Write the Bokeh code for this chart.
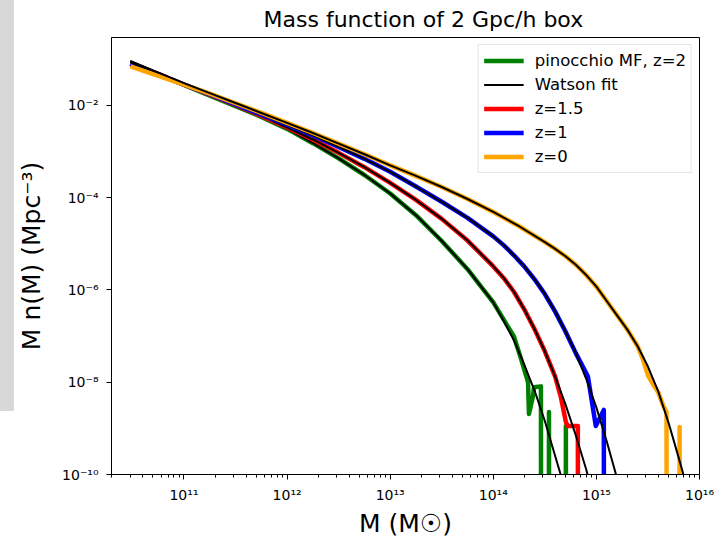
import numpy as np
from bokeh.plotting import figure
from bokeh.layouts import row
from bokeh.models import (Range1d, FixedTicker, CustomJSTickFormatter, Legend,
                          LegendItem, Div)
from bokeh.embed import file_html
from bokeh.resources import INLINE

FONT = "DejaVu Sans"

# ---------------------------------------------------------------------------
# Halo mass function of the 2 Gpc/h box.
# Masses are log10(M / Msun); values are log10(M n(M) / Mpc^-3).
# None marks an empty mass bin (no halos).
# ---------------------------------------------------------------------------

# Watson fit
watson_z2_logm = [10.48, 10.75, 11.0, 11.25, 11.5, 11.75, 12.0, 12.25, 12.5, 12.75,
                  13.0, 13.25, 13.5, 13.75, 14.0, 14.1, 14.2, 14.3, 14.4, 14.5,
                  14.6, 14.66, 14.72]
watson_z2_logv = [-1.04, -1.29, -1.54, -1.78, -2.02, -2.25, -2.51, -2.82, -3.15,
                  -3.51, -3.91, -4.38, -4.94, -5.55, -6.27, -6.67, -7.09, -7.62,
                  -8.18, -8.84, -9.60, -10.05, -10.5]

watson_z15_logm = [10.48, 10.75, 11.0, 11.25, 11.5, 11.75, 12.0, 12.25, 12.5, 12.75,
                   13.0, 13.25, 13.5, 13.75, 14.0, 14.1, 14.2, 14.3, 14.4, 14.5,
                   14.6, 14.7, 14.8, 14.9, 14.95]
watson_z15_logv = [-1.05, -1.30, -1.54, -1.77, -1.99, -2.23, -2.48, -2.74, -3.03,
                   -3.34, -3.68, -4.05, -4.46, -4.93, -5.49, -5.74, -6.04, -6.42,
                   -6.85, -7.33, -7.88, -8.48, -9.15, -9.88, -10.3]

watson_z1_logm = [10.48, 10.75, 11.0, 11.25, 11.5, 11.75, 12.0, 12.25, 12.5, 12.75,
                  13.0, 13.25, 13.5, 13.75, 14.0, 14.1, 14.2, 14.3, 14.4, 14.5,
                  14.6, 14.7, 14.8, 14.9, 15.0, 15.1, 15.19, 15.25]
watson_z1_logv = [-1.06, -1.31, -1.54, -1.76, -1.98, -2.20, -2.42, -2.65, -2.90,
                  -3.16, -3.44, -3.76, -4.09, -4.44, -4.84, -5.03, -5.25, -5.49,
                  -5.77, -6.09, -6.47, -6.90, -7.37, -7.92, -8.55, -9.28, -10.0,
                  -10.5]

watson_z0_logm = [10.48, 10.75, 11.0, 11.25, 11.5, 11.75, 12.0, 12.25, 12.5, 12.75,
                  13.0, 13.25, 13.5, 13.75, 14.0, 14.25, 14.5, 14.6, 14.7, 14.8,
                  14.9, 15.0, 15.1, 15.2, 15.3, 15.4, 15.5, 15.6, 15.7, 15.8,
                  15.85, 15.9]
watson_z0_logv = [-1.05, -1.29, -1.52, -1.735, -1.95, -2.165, -2.38, -2.60, -2.83,
                  -3.06, -3.30, -3.53, -3.77, -4.03, -4.31, -4.62, -4.965, -5.11,
                  -5.27, -5.455, -5.675, -5.93, -6.24, -6.55, -6.86, -7.22, -7.66,
                  -8.20, -8.88, -9.65, -10.05, -10.45]

# pinocchio mass function
pin_z2_logm = [10.48, 10.75, 11.0, 11.25, 11.5, 11.75, 12.0, 12.25, 12.5, 12.75,
               13.0, 13.25, 13.5, 13.75, 14.0, 14.1, 14.2, 14.27, 14.337, 14.346,
               14.385, 14.395, 14.462, 14.47, 14.53, 14.54, 14.55, 14.695,
               14.704, 14.714]
pin_z2_logv = [-1.10, -1.33, -1.56, -1.79, -2.02, -2.25, -2.51, -2.82, -3.15,
               -3.51, -3.91, -4.38, -4.94, -5.55, -6.27, -6.64, -7.01, -7.50,
               -8.0, -8.69, -8.30, -8.11, -8.09, None, None, -8.646, None, None,
               -8.947, None]

pin_z15_logm = [10.48, 10.75, 11.0, 11.25, 11.5, 11.75, 12.0, 12.25, 12.5, 12.75,
                13.0, 13.25, 13.5, 13.75, 14.0, 14.1, 14.2, 14.3, 14.4, 14.5,
                14.6, 14.656, 14.704, 14.72, 14.82, 14.83]
pin_z15_logv = [-1.10, -1.32, -1.55, -1.77, -1.99, -2.23, -2.48, -2.74, -3.03,
                -3.34, -3.68, -4.05, -4.46, -4.93, -5.49, -5.74, -6.04, -6.42,
                -6.85, -7.33, -7.88, -8.33, -8.86, -8.947, -8.947, None]

pin_z1_logm = [10.48, 10.75, 11.0, 11.25, 11.5, 11.75, 12.0, 12.25, 12.5, 12.75,
               13.0, 13.25, 13.5, 13.75, 14.0, 14.1, 14.2, 14.3, 14.4, 14.5,
               14.6, 14.7, 14.8, 14.917, 14.994, 15.043, 15.072, 15.08]
pin_z1_logv = [-1.10, -1.33, -1.55, -1.76, -1.98, -2.20, -2.42, -2.65, -2.90,
               -3.16, -3.44, -3.76, -4.09, -4.44, -4.84, -5.03, -5.25, -5.49,
               -5.77, -6.09, -6.47, -6.90, -7.37, -7.87, -8.947, -8.73, -8.60,
               None]

pin_z0_logm = [10.48, 10.75, 11.0, 11.25, 11.5, 11.75, 12.0, 12.25, 12.5, 12.75,
               13.0, 13.25, 13.5, 13.75, 14.0, 14.25, 14.5, 14.6, 14.7, 14.8,
               14.9, 15.0, 15.1, 15.2, 15.3, 15.4, 15.45, 15.5, 15.55, 15.6,
               15.65, 15.68, 15.69, 15.80, 15.807, 15.815]
pin_z0_logv = [-1.154, -1.36, -1.55, -1.745, -1.955, -2.165, -2.38, -2.60, -2.83,
               -3.06, -3.30, -3.53, -3.77, -4.03, -4.31, -4.62, -4.965, -5.11,
               -5.27, -5.455, -5.675, -5.93, -6.24, -6.55, -6.86, -7.22, -7.50,
               -7.85, -8.05, -8.22, -8.52, -8.64, None, None, -8.97, None]

# empty bins sit far below the plotted range
EMPTY_BIN = 1e-30


def linear(logs):
    return [10.0 ** v if v is not None else EMPTY_BIN for v in logs]


p = figure(
    width=703, height=540,
    x_axis_type="log", y_axis_type="log",
    x_range=Range1d(10 ** 10.297, 1e16),
    y_range=Range1d(1e-10, 10 ** -0.53),
    output_backend="svg", toolbar_location=None,
    min_border_left=96, min_border_right=18,
    min_border_top=36, min_border_bottom=64,
    title="Mass function of 2 Gpc/h box",
)

p.background_fill_color = "white"
p.border_fill_color = "white"
p.outline_line_color = "black"
p.outline_line_width = 1
p.xgrid.visible = False
p.ygrid.visible = False

p.title.align = "left"
p.title.offset = 152
p.title.text_font = FONT
p.title.text_font_size = "22px"
p.title.text_font_style = "normal"
p.title.text_color = "black"
p.title.standoff = 10
p.title.vertical_align = "middle"

sup_js = """
const sup = {"-": "\\u207b", "0": "\\u2070", "1": "\\u00b9", "2": "\\u00b2",
             "3": "\\u00b3", "4": "\\u2074", "5": "\\u2075", "6": "\\u2076",
             "7": "\\u2077", "8": "\\u2078", "9": "\\u2079"};
const e = Math.round(Math.log10(tick));
return "10" + String(e).split("").map(c => sup[c]).join("");
"""

x_major = [1e11, 1e12, 1e13, 1e14, 1e15, 1e16]
x_minor = [k * 10.0 ** d for d in range(10, 16) for k in range(2, 10)]
p.xaxis.ticker = FixedTicker(ticks=x_major, minor_ticks=x_minor)
p.yaxis.ticker = FixedTicker(ticks=[1e-10, 1e-8, 1e-6, 1e-4, 1e-2], minor_ticks=[])
p.xaxis.formatter = CustomJSTickFormatter(code=sup_js)
p.yaxis.formatter = CustomJSTickFormatter(code=sup_js)

for ax in (p.xaxis, p.yaxis):
    ax.axis_line_color = "black"
    ax.major_tick_line_color = "black"
    ax.minor_tick_line_color = "black"
    ax.major_tick_out = 5
    ax.major_tick_in = 0
    ax.minor_tick_out = 3
    ax.minor_tick_in = 0
    ax.major_label_text_font = FONT
    ax.major_label_text_font_size = "14px"
    ax.major_label_text_color = "black"
    ax.axis_label_text_font = FONT
    ax.axis_label_text_font_size = "25px"
    ax.axis_label_text_font_style = "normal"
    ax.axis_label_text_color = "black"

p.xaxis.axis_label = "M (M\u2609)"
p.yaxis.axis_label = "M n(M) (Mpc\u207b\u00b3)"
p.xaxis.major_label_standoff = 7
p.yaxis.major_label_standoff = 8
p.xaxis.axis_label_standoff = 3
p.yaxis.axis_label_standoff = 13
p.yaxis.axis_label_text_line_height = 0.8

curves = [
    (pin_z2_logm, pin_z2_logv, watson_z2_logm, watson_z2_logv, "green"),
    (pin_z15_logm, pin_z15_logv, watson_z15_logm, watson_z15_logv, "red"),
    (pin_z1_logm, pin_z1_logv, watson_z1_logm, watson_z1_logv, "blue"),
    (pin_z0_logm, pin_z0_logv, watson_z0_logm, watson_z0_logv, "orange"),
]

pin_renderers = []
fit_renderers = []
for pm, pv, fm, fv, color in curves:
    r_pin = p.line(linear(pm), linear(pv), line_color=color, line_width=4.5,
                   line_join="round")
    r_fit = p.line(linear(fm), linear(fv), line_color="black", line_width=2,
                   line_join="round")
    pin_renderers.append(r_pin)
    fit_renderers.append(r_fit)

legend = Legend(
    items=[
        LegendItem(label="pinocchio MF, z=2", renderers=[pin_renderers[0]]),
        LegendItem(label="Watson fit", renderers=[fit_renderers[0]]),
        LegendItem(label="z=1.5", renderers=[pin_renderers[1]]),
        LegendItem(label="z=1", renderers=[pin_renderers[2]]),
        LegendItem(label="z=0", renderers=[pin_renderers[3]]),
    ],
    location="top_right",
    label_text_font=FONT,
    label_text_font_size="16.5px",
    label_text_color="black",
    glyph_width=40,
    glyph_height=21,
    label_height=21,
    label_standoff=11,
    spacing=3,
    padding=5,
    margin=7,
    border_line_color="#cccccc",
    border_line_width=1,
    background_fill_color="white",
    background_fill_alpha=0.85,
)
p.add_layout(legend)

# grey paper margin along the left edge of the page
paper_edge = Div(text="", width=14, height=411, margin=0,
                 styles={"background-color": "#d8d8d8"})

page = row(paper_edge, p, spacing=0)

open("out.html", "w").write(file_html(page, INLINE))
